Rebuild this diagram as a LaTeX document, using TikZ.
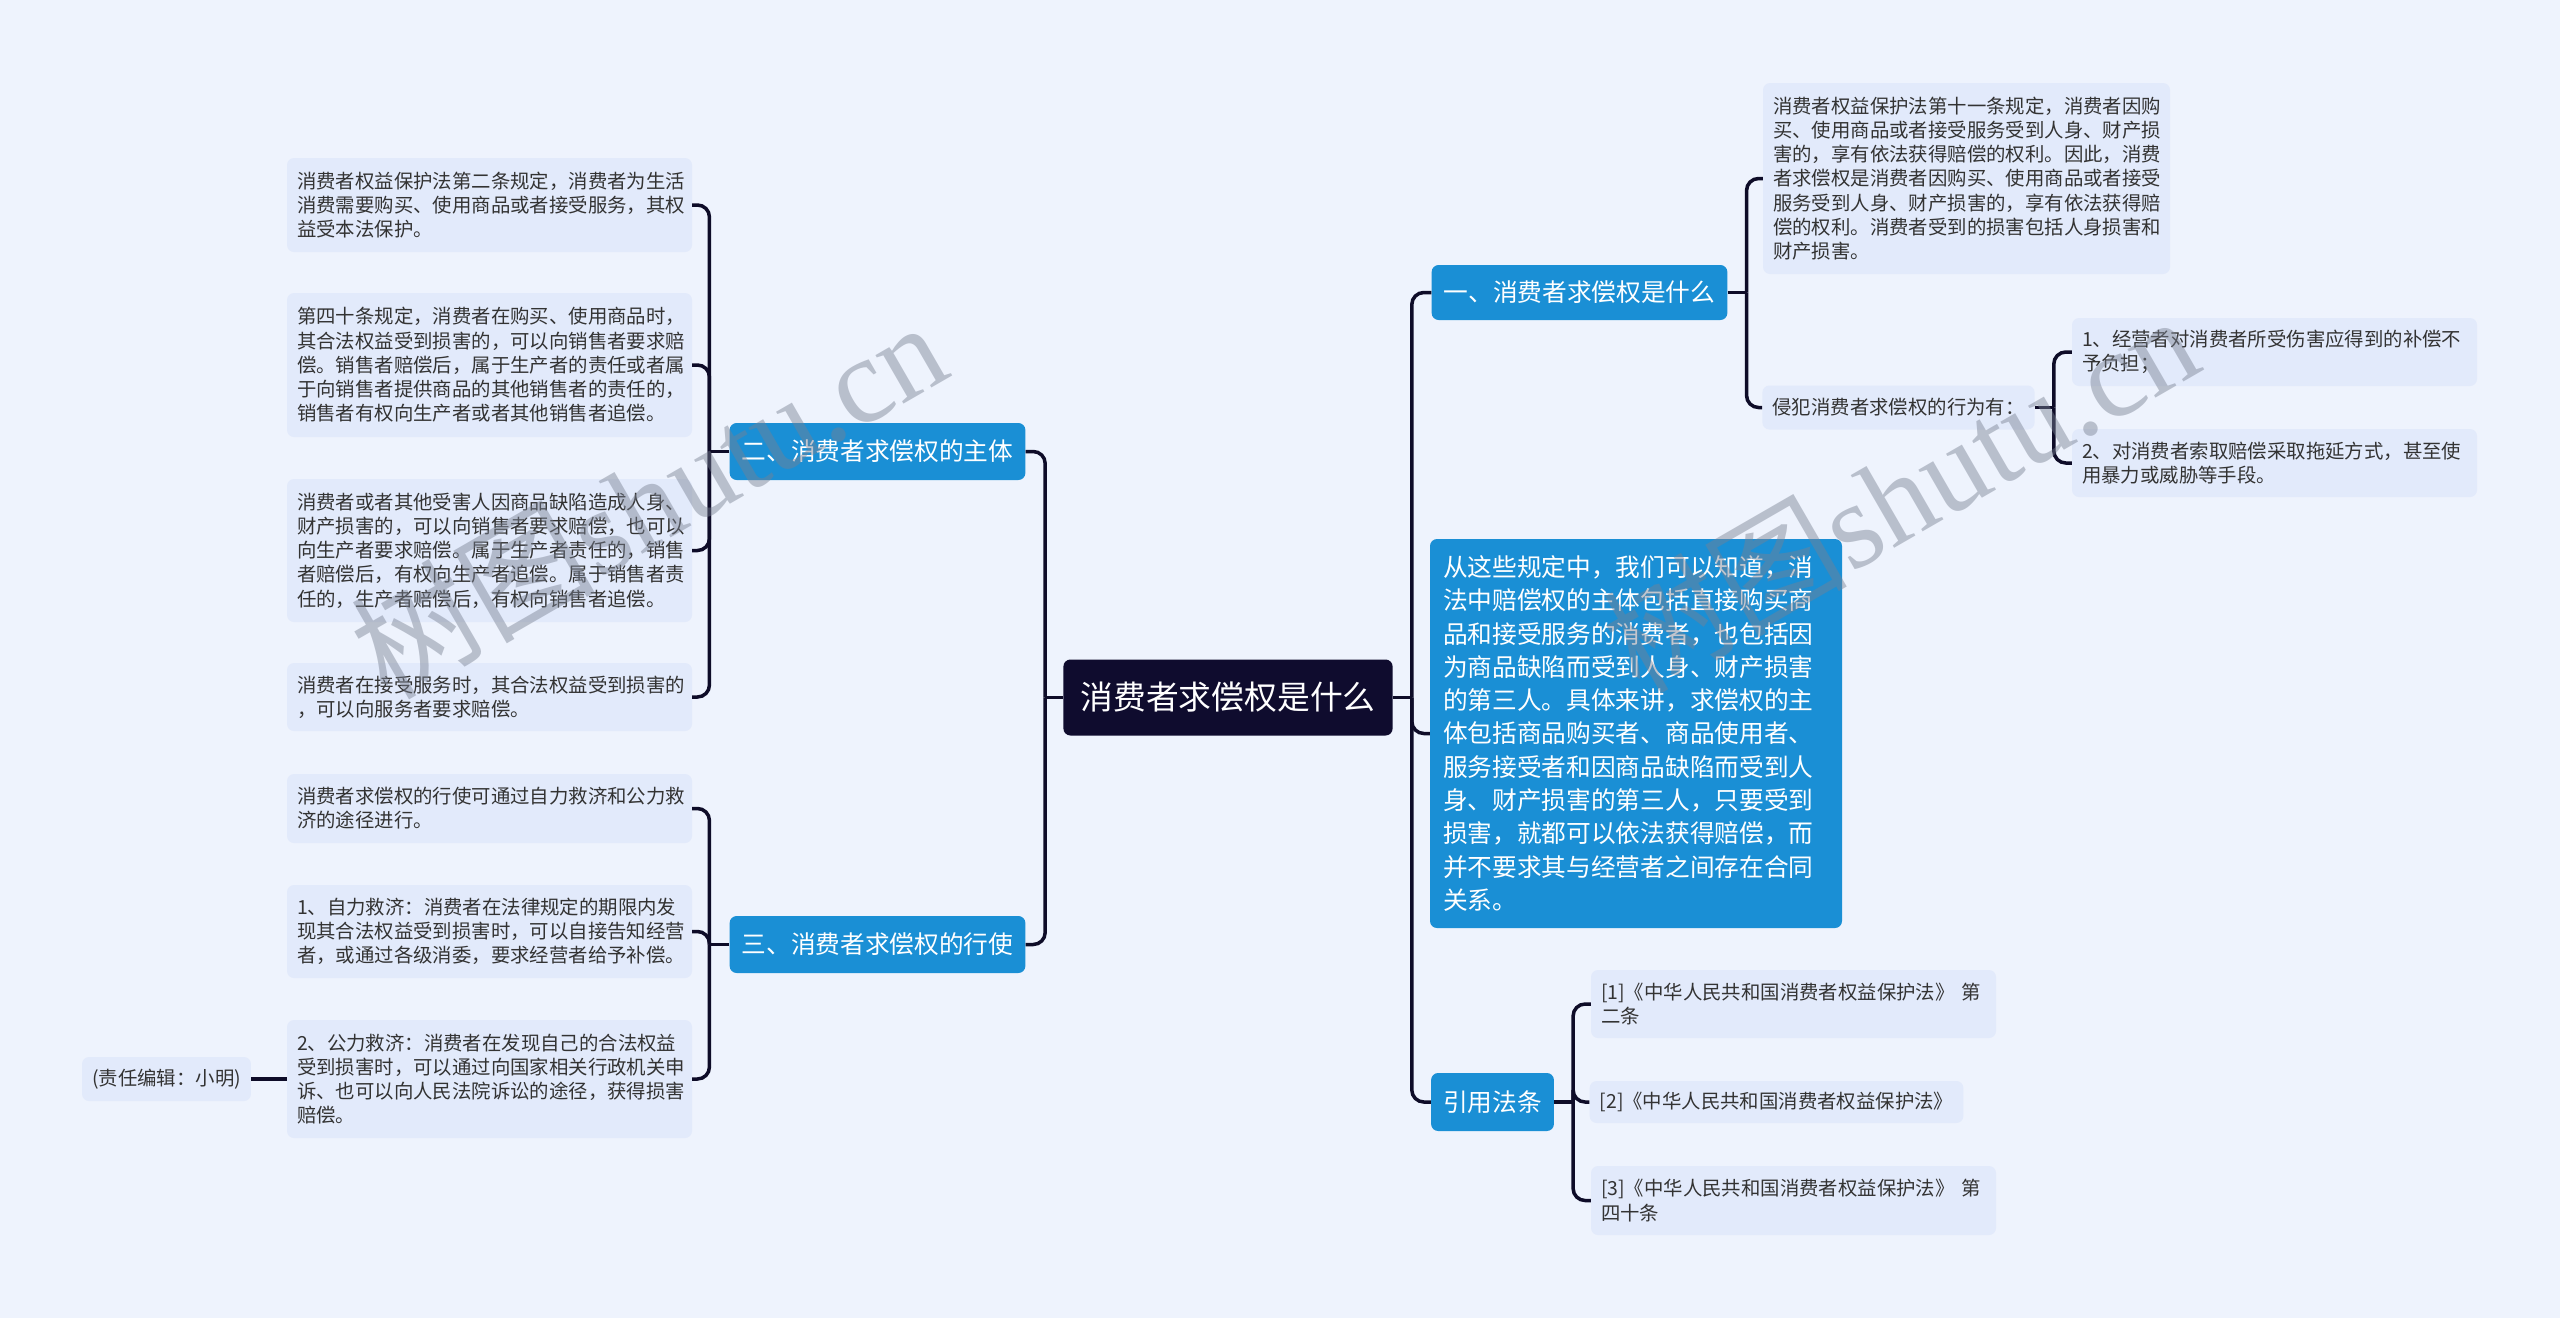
\documentclass[tikz,border=0pt]{standalone}
\usepackage{fontspec}
\setmainfont{Noto Sans CJK SC}
\newfontfamily\wmserif{Liberation Serif}
\definecolor{bgc}{RGB}{238,243,253}
\definecolor{leafc}{RGB}{226,234,251}
\definecolor{branchc}{RGB}{26,143,213}
\definecolor{rootc}{RGB}{15,12,46}
\definecolor{connc}{RGB}{14,12,40}
\definecolor{leaftext}{RGB}{51,51,51}
\definecolor{wmc}{RGB}{120,128,145}
\begin{document}
\begin{tikzpicture}[x=1pt,y=-1pt,
  leaf/.style={fill=leafc, rounded corners=7, text=leaftext,
    font=\fontsize{19.4}{24.2}\selectfont, align=left, inner xsep=10, inner ysep=3, anchor=center},
  branch/.style={fill=branchc, rounded corners=7, text=white,
    font=\fontsize{24.7}{30}\selectfont, inner xsep=12, inner ysep=3, minimum height=57, anchor=center},
  rootbox/.style={fill=rootc, rounded corners=7, text=white,
    font=\fontsize{32.8}{38}\selectfont, inner xsep=17, inner ysep=3, minimum height=76, anchor=center},
  conn/.style={draw=connc, line width=3.5, rounded corners=12},
  wm/.style={text=wmc, opacity=0.45, rotate=30, font=\fontsize{122}{126}\selectfont, anchor=center}
]
\fill[bgc] (0,0) rectangle (2560,1318);
\useasboundingbox (0,0) rectangle (2560,1318);

% root
\node[rootbox] (root) at (1228,697.5) {消费者求偿权是什么};

% left branches
\node[branch] (L1) at (877.5,451.5) {二、消费者求偿权的主体};
\node[branch] (L2) at (877.5,944.5) {三、消费者求偿权的行使};

\node[leaf, text width=385, minimum height=94] (A) at (489.5,205) {消费者权益保护法第二条规定，消费者为生活\\消费需要购买、使用商品或者接受服务，其权\\益受本法保护。};
\node[leaf, text width=385, minimum height=144] (B) at (489.5,365) {第四十条规定，消费者在购买、使用商品时，\\其合法权益受到损害的，可以向销售者要求赔\\偿。销售者赔偿后，属于生产者的责任或者属\\于向销售者提供商品的其他销售者的责任的，\\销售者有权向生产者或者其他销售者追偿。};
\node[leaf, text width=385, minimum height=143] (C) at (489.5,550.5) {消费者或者其他受害人因商品缺陷造成人身、\\财产损害的，可以向销售者要求赔偿，也可以\\向生产者要求赔偿。属于生产者责任的，销售\\者赔偿后，有权向生产者追偿。属于销售者责\\任的，生产者赔偿后，有权向销售者追偿。};
\node[leaf, text width=385, minimum height=68] (D) at (489.5,697) {消费者在接受服务时，其合法权益受到损害的\\，可以向服务者要求赔偿。};

\node[leaf, text width=385, minimum height=69] (E) at (489.5,808.5) {消费者求偿权的行使可通过自力救济和公力救\\济的途径进行。};
\node[leaf, text width=385, minimum height=93] (F) at (489.5,931.5) {1、自力救济：消费者在法律规定的期限内发\\现其合法权益受到损害时，可以自接告知经营\\者，或通过各级消委，要求经营者给予补偿。};
\node[leaf, text width=385, minimum height=118] (G) at (489.5,1079) {2、公力救济：消费者在发现自己的合法权益\\受到损害时，可以通过向国家相关行政机关申\\诉、也可以向人民法院诉讼的途径，获得损害\\赔偿。};
\node[leaf, minimum height=44] (ed) at (166.5,1079) {(责任编辑：小明)};

% right branches
\node[branch, minimum height=55] (R1) at (1579.5,292.5) {一、消费者求偿权是什么};
\node[fill=branchc, rounded corners=7, text=white, font=\fontsize{24.7}{33.3}\selectfont,
  text width=386, align=left, inner xsep=13, inner ysep=3, minimum height=389, anchor=center] (R2) at (1636,733.5)
  {从这些规定中，我们可以知道，消\\法中赔偿权的主体包括直接购买商\\品和接受服务的消费者，也包括因\\为商品缺陷而受到人身、财产损害\\的第三人。具体来讲，求偿权的主\\体包括商品购买者、商品使用者、\\服务接受者和因商品缺陷而受到人\\身、财产损害的第三人，只要受到\\损害，就都可以依法获得赔偿，而\\并不要求其与经营者之间存在合同\\关系。};
\node[branch, minimum height=58] (R3) at (1492.5,1102) {引用法条};

\node[leaf, text width=387, minimum height=191] (R1a) at (1966.5,178.5) {消费者权益保护法第十一条规定，消费者因购\\买、使用商品或者接受服务受到人身、财产损\\害的，享有依法获得赔偿的权利。因此，消费\\者求偿权是消费者因购买、使用商品或者接受\\服务受到人身、财产损害的，享有依法获得赔\\偿的权利。消费者受到的损害包括人身损害和\\财产损害。};
\node[leaf, minimum height=44] (R1b) at (1898.5,407.5) {侵犯消费者求偿权的行为有：};
\node[leaf, text width=385, minimum height=68] (R1b1) at (2274.5,352) {1、经营者对消费者所受伤害应得到的补偿不\\予负担；};
\node[leaf, text width=385, minimum height=68] (R1b2) at (2274.5,463) {2、对消费者索取赔偿采取拖延方式，甚至使\\用暴力或威胁等手段。};

\node[leaf, text width=385, minimum height=68] (R3a) at (1793.5,1004) {[1]《中华人民共和国消费者权益保护法》 第\\二条};
\node[leaf, minimum height=42] (R3b) at (1776.5,1102) {[2]《中华人民共和国消费者权益保护法》};
\node[leaf, text width=385, minimum height=69] (R3c) at (1793.5,1200.5) {[3]《中华人民共和国消费者权益保护法》 第\\四十条};

% connectors: root
\draw[conn] (root.west) -- ([xshift=-18]root.west);
\draw[conn] ([xshift=-18]root.west) |- (L1.east);
\draw[conn] ([xshift=-18]root.west) |- (L2.east);
\draw[conn] (root.east) -- ([xshift=19]root.east);
\draw[conn] ([xshift=19]root.east) |- (R1.west);
\draw[conn] ([xshift=19]root.east) |- (R2.west);
\draw[conn] ([xshift=19]root.east) |- (R3.west);

% L1
\draw[conn] (L1.west) -- ([xshift=-20]L1.west);
\foreach \c in {A,B,C,D} \draw[conn] ([xshift=-20]L1.west) |- (\c.east);
% L2
\draw[conn] (L2.west) -- ([xshift=-20]L2.west);
\foreach \c in {E,F,G} \draw[conn] ([xshift=-20]L2.west) |- (\c.east);
\draw[conn] (G.west) -- (ed.east);

% R1
\draw[conn] (R1.east) -- ([xshift=19]R1.east);
\foreach \c in {R1a,R1b} \draw[conn] ([xshift=19]R1.east) |- (\c.west);
\draw[conn] (R1b.east) -- ([xshift=19]R1b.east);
\foreach \c in {R1b1,R1b2} \draw[conn] ([xshift=19]R1b.east) |- (\c.west);
% R3
\draw[conn] (R3.east) -- ([xshift=19]R3.east);
\foreach \c in {R3a,R3b,R3c} \draw[conn] ([xshift=19]R3.east) |- (\c.west);

% watermarks
\node[wm] (wm1) at (648,498) {树图{\wmserif shutu.cn}};
\node[wm] (wm2) at (1900,492) {树图{\wmserif shutu.cn}};
\end{tikzpicture}
\end{document}
